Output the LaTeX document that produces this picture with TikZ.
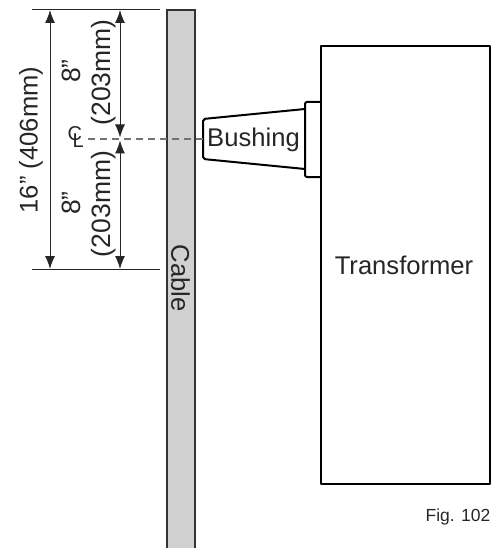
\documentclass[tikz,border=0pt]{standalone}
\usepackage{fontspec}
\setmainfont{Liberation Sans}
\usetikzlibrary{arrows.meta}
\tikzset{
  dimline/.style={draw=black!85, line width=1pt, {Latex[length=13pt,width=10pt]}-{Latex[length=13pt,width=10pt]}},
  extline/.style={draw=black!85, line width=1pt},
  outline/.style={draw=black, line width=2pt, line join=round},
  bigtext/.style={font=\fontsize{25.6}{30}\selectfont, text=black!85, inner sep=0pt},
  dimtext/.style={font=\fontsize{26.5}{30}\selectfont, text=black!85, inner sep=0pt},
  cltext/.style={font=\fontsize{20}{20}\selectfont, text=black!85, inner sep=0pt},
}
\begin{document}
\begin{tikzpicture}[x=1pt, y=-1pt]
            \useasboundingbox (0, 0) rectangle (495, 548);
            % cable
            \fill[black!18] (166.5, 10.5) rectangle (194.5, 548);
            \draw[draw=black!80, line width=2pt] (166.5, 548) -- (166.5, 10.5) -- (194.5, 10.5) -- (194.5, 548);
            \node[bigtext, rotate=-90] (cable) at (180.5, 278) {Cable};
            % transformer and bushing
            \draw[outline] (321, 46.5) rectangle (489.5, 484);
            \draw[outline, rounded corners=2pt] (321, 102) -- (305, 102) -- (305, 177) -- (321, 177);
            \draw[outline, rounded corners=2pt] (305, 109) -- (203, 119) -- (203, 159) -- (305, 169);
            \node[bigtext] (bushing) at (253.5, 140) {Bushing};
            \node[bigtext] (transformer) at (404, 265) {Transformer};
            \node[font=\fontsize{17.5}{20}\selectfont, text=black!85, inner sep=0pt] (fig) at (458, 517) {Fig. 102};
            % dimensions
            \coordinate (topa) at (32, 10);
            \coordinate (topb) at (160, 10);
            \coordinate (bota) at (32, 269);
            \coordinate (botb) at (160, 269);
            \coordinate (outtop) at (50, 10);
            \coordinate (outbot) at (50, 269);
            \coordinate (intop) at (120, 10);
            \coordinate (inmida) at (120, 137.5);
            \coordinate (inmidb) at (120, 140.5);
            \coordinate (inbot) at (120, 269);
            \draw[extline] (topa) -- (topb);
            \draw[extline] (bota) -- (botb);
            \draw[dimline] (outtop) -- (outbot);
            \draw[dimline] (intop) -- (inmida);
            \draw[dimline] (inmidb) -- (inbot);
            \node[bigtext, rotate=90] (total) at (31, 140) {16” (406mm)};
            \node[dimtext, rotate=90] (uppera) at (71, 71) {8”};
            \node[dimtext, rotate=90] (upperb) at (104, 72.5) {(203mm)};
            \node[dimtext, rotate=90] (lowera) at (71, 203) {8”};
            \node[dimtext, rotate=90] (lowerb) at (104, 204) {(203mm)};
            % center line
            \node[cltext, anchor=base west] (cl) at (72.5, 148) {\rlap{\kern-5pt\raisebox{7pt}{C}}L};
            \coordinate (clend) at (203, 139);
            \draw[draw=black!55, line width=1.3pt, dash pattern=on 7pt off 5pt] (88, 139) -- (clend);
          \end{tikzpicture}
\end{document}
